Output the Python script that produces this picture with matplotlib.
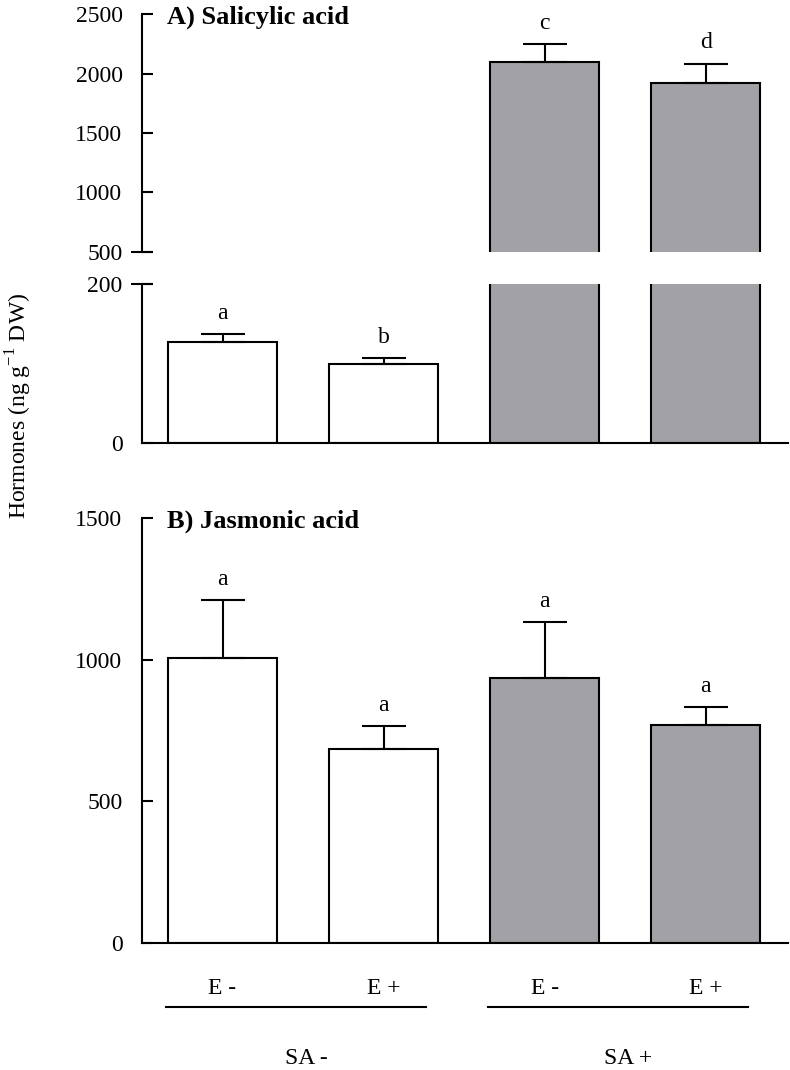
import matplotlib
matplotlib.use("Agg")
import matplotlib.pyplot as plt
from matplotlib.transforms import blended_transform_factory

plt.rcParams['font.family'] = ['Liberation Serif', 'DejaVu Serif']
plt.rcParams['mathtext.fontset'] = 'custom'
plt.rcParams['mathtext.rm'] = 'Liberation Serif'

# --- data ---
treatments = ['E -', 'E +', 'E -', 'E +']
groups = ['SA -', 'SA +']
sa_mean = [127, 99, 2100, 1924]
sa_err = [10, 8, 144, 160]
sa_letters = ['a', 'b', 'c', 'd']
ja_mean = [1005, 685, 937, 770]
ja_err = [205, 81, 196, 63]
ja_letters = ['a', 'a', 'a', 'a']
bar_colors = ['white', 'white', '#a2a1a6', '#a2a1a6']

x = list(range(len(treatments)))
bw = 0.676
lw = 1.5

fig = plt.figure(figsize=(7.9, 10.7), dpi=100)
L, W = 0.1797, 0.8178
ax_hi = fig.add_axes([L, 0.7645, W, 0.2224])
ax_lo = fig.add_axes([L, 0.5860, W, 0.1486])
ax_ja = fig.add_axes([L, 0.1187, W, 0.3972])


def draw_bars(ax, means, errs):
    ax.bar(x, means, width=bw, color=bar_colors, edgecolor='black', linewidth=lw,
           yerr=[[0] * len(errs), errs], capsize=16,
           error_kw=dict(elinewidth=lw, capthick=lw, ecolor='black'))


draw_bars(ax_hi, sa_mean, sa_err)
draw_bars(ax_lo, sa_mean, sa_err)
draw_bars(ax_ja, ja_mean, ja_err)

ax_hi.set_ylim(500, 2500)
ax_hi.set_yticks([500, 1000, 1500, 2000, 2500])
ax_lo.set_ylim(0, 200)
ax_lo.set_yticks([0, 200])
ax_ja.set_ylim(0, 1500)
ax_ja.set_yticks([0, 500, 1000, 1500])

for ax in (ax_hi, ax_lo, ax_ja):
    ax.set_xlim(-0.5, 3.51)
    ax.set_xticks([])
    ax.spines['top'].set_visible(False)
    ax.spines['right'].set_visible(False)
    ax.spines['left'].set_linewidth(lw)
    ax.spines['bottom'].set_linewidth(lw)
    ax.tick_params(axis='y', direction='in', length=8, width=lw, pad=14, labelsize=17)
    ax.patch.set_alpha(0)
ax_hi.spines['bottom'].set_visible(False)

# break marks crossing the axis at 500 and 200
for ax, yv in ((ax_hi, 500), (ax_lo, 200)):
    tr = blended_transform_factory(ax.transAxes, ax.transData)
    ax.plot([0], [yv], marker='_', ms=16, mew=lw, color='black',
            transform=tr, clip_on=False)

# significance letters
for i in x:
    ax = ax_hi if sa_mean[i] > 200 else ax_lo
    ax.annotate(sa_letters[i], (i, sa_mean[i] + sa_err[i]), xytext=(0, 11),
                textcoords='offset points', ha='center', va='baseline', fontsize=17)
    ax_ja.annotate(ja_letters[i], (i, ja_mean[i] + ja_err[i]), xytext=(0, 11),
                   textcoords='offset points', ha='center', va='baseline', fontsize=17)

ax_hi.text(0.039, 0.987, 'A) Salicylic acid', transform=ax_hi.transAxes,
           ha='left', va='center', fontsize=19, fontweight='bold')
ax_ja.text(0.039, 0.993, 'B) Jasmonic acid', transform=ax_ja.transAxes,
           ha='left', va='center', fontsize=19, fontweight='bold')

fig.text(19 / 790, 1 - 406 / 1070, 'Hormones (ng g$^{-1}$ DW)', rotation=90,
         ha='center', va='center', fontsize=17)

# treatment labels and group brackets under the bottom panel
trans = blended_transform_factory(ax_ja.transData, fig.transFigure)
for i, lab in enumerate(treatments):
    ax_ja.text(i, 0.0766, lab, transform=trans, ha='center', va='center', fontsize=17)
for g, lab in enumerate(groups):
    i0, i1 = 2 * g, 2 * g + 1
    ax_ja.plot([i0 - 0.35, i1 + 0.26], [0.0589, 0.0589], transform=trans,
               color='black', lw=lw, clip_on=False)
    ax_ja.text(i0 + 0.52, 0.0112, lab, transform=trans, ha='center', va='center', fontsize=17)

plt.savefig('out.png', dpi=100)
